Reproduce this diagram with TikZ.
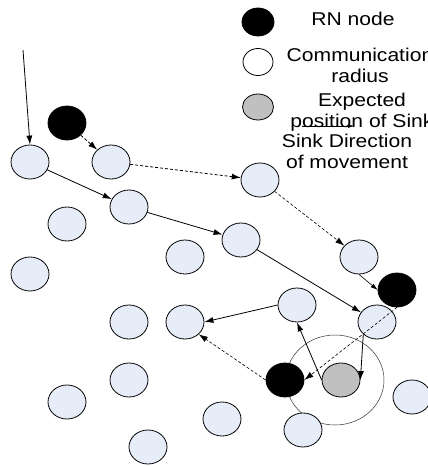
\documentclass[tikz,border=0pt]{standalone}
\usepackage{fontspec}
\newfontfamily\legendfont{Liberation Sans}[FakeStretch=1.14]
\usetikzlibrary{shapes.geometric,arrows.meta}

\definecolor{nodefill}{RGB}{230,237,248}
\definecolor{sinkgray}{RGB}{192,192,192}

\tikzset{
  sensor/.style={ellipse, draw, line width=0.8pt, fill=nodefill, minimum width=38pt, minimum height=34pt, inner sep=0pt},
  rnnode/.style={sensor, fill=black},
  sinknode/.style={sensor, fill=sinkgray},
  legtext/.style={font=\legendfont\fontsize{18.5}{21}\selectfont, align=center, inner sep=0pt},
  hop/.style={line width=0.8pt, -{Latex[length=9pt,width=6pt]}},
  relay/.style={hop, dash pattern=on 3pt off 2pt},
}

\begin{document}
\begin{tikzpicture}[x=1pt,y=-1pt]
\useasboundingbox (0,0) rectangle (428,466);

% Legend
\node[rnnode, minimum width=32pt, minimum height=28pt] (legrn) at (258,22) {};
\node[sensor, fill=white, minimum width=30pt, minimum height=27pt] (legcomm) at (258,62) {};
\node[sinknode, minimum width=31pt, minimum height=26pt] (legsink) at (258,107) {};
\node[legtext] (txtrn) at (353,19) {RN node};
\node[legtext] (txtcomm) at (360,65) {Communication\\radius};
\node[legtext] (txtsink) at (362,112) {Expected\\position of Sink};
\node[legtext] (txtdir) at (347,151) {Sink Direction\\of movement};
\coordinate (dirstart) at (302,126);
\coordinate (dirend) at (354,126);
\draw[line width=0.6pt, -{Latex[length=6pt,width=4pt]}] (dirstart) -- (dirend);

% Communication radius of the sink
\draw[line width=0.5pt, black!80] (335,380) ellipse [x radius=49, y radius=45];

% Sensor nodes
\node[rnnode] (rn1) at (67,123) {};
\node[sensor] (n1) at (30,162) {};
\node[sensor] (n2) at (111,162) {};
\node[sensor] (n3) at (129,207) {};
\node[sensor] (n4) at (67,224) {};
\node[sensor] (n5) at (260,180) {};
\node[sensor] (n6) at (30,274) {};
\node[sensor] (n7) at (185,257) {};
\node[sensor] (n8) at (241,240) {};
\node[sensor] (n9) at (359,257) {};
\node[rnnode] (rn2) at (397,290) {};
\node[sensor] (n10) at (297,305) {};
\node[sensor] (n11) at (129,322) {};
\node[sensor] (n12) at (185,322) {};
\node[sensor] (n13) at (377,322) {};
\node[rnnode] (rn3) at (285,380) {};
\node[sinknode] (sink) at (341,380) {};
\node[sensor] (n14) at (129,380) {};
\node[sensor] (n15) at (67,402) {};
\node[sensor] (n16) at (412,397) {};
\node[sensor] (n17) at (222,419) {};
\node[sensor] (n18) at (303,430) {};
\node[sensor] (n19) at (148,447) {};

% Sink path
\coordinate (entry) at (23,50);
\draw[hop] (entry) -- (n1.north);
\draw[hop] (n1) -- (n3);
\draw[hop] (n3) -- (n8);
\draw[hop] (n8) -- (n13);
\draw[hop] (n13.south west) -- (sink.east);
\draw[hop] (sink.west) -- (n10.south);
\draw[hop] (n10.west) -- (n12.east);

% RN forwarding
\draw[relay] (rn1) -- (n2);
\draw[relay] (n2) -- (n5);
\draw[relay, line width=0.6pt] (n5) -- (n9);
\draw[line width=0.6pt, -{Latex[length=7pt,width=4.5pt]}] (n9.south) -- (rn2.west);
\draw[relay, line width=0.6pt] (rn2.south) -- (rn3.east);
\draw[relay, line width=0.6pt] (rn3.west) -- (n12.south east);
\end{tikzpicture}
\end{document}
